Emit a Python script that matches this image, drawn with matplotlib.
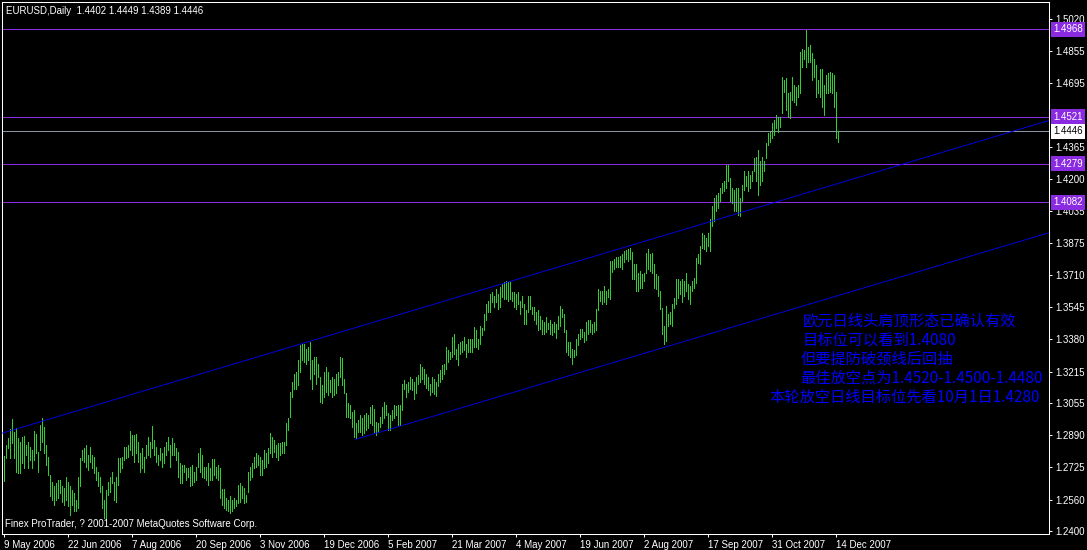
import matplotlib
matplotlib.use("Agg")
import matplotlib.pyplot as plt
from matplotlib import transforms

plt.rcParams['font.family'] = ['Liberation Sans', 'DejaVu Sans']

W, H = 1087, 550

# daily EURUSD bars, 9 May 2006 .. mid Dec 2007 (high / low)
highs = [
    1.2785, 1.2839, 1.2873, 1.2921, 1.2972, 1.2907, 1.2924, 1.2873, 1.2856, 1.2882,
    1.2887, 1.2839, 1.2856, 1.2831, 1.2813, 1.2910, 1.2898, 1.2805, 1.2941, 1.2975,
    1.2933, 1.2839, 1.2779, 1.2686, 1.2652, 1.2627, 1.2643, 1.2661, 1.2661, 1.2627,
    1.2618, 1.2678, 1.2652, 1.2627, 1.2610, 1.2593, 1.2559, 1.2678, 1.2771, 1.2813,
    1.2822, 1.2839, 1.2788, 1.2831, 1.2788, 1.2779, 1.2728, 1.2703, 1.2678, 1.2627,
    1.2559, 1.2610, 1.2652, 1.2678, 1.2703, 1.2652, 1.2678, 1.2771, 1.2771, 1.2779,
    1.2831, 1.2831, 1.2839, 1.2910, 1.2893, 1.2890, 1.2898, 1.2856, 1.2796, 1.2822,
    1.2779, 1.2839, 1.2882, 1.2856, 1.2938, 1.2865, 1.2831, 1.2788, 1.2822, 1.2796,
    1.2831, 1.2856, 1.2882, 1.2839, 1.2873, 1.2848, 1.2822, 1.2805, 1.2745, 1.2737,
    1.2737, 1.2720, 1.2720, 1.2728, 1.2737, 1.2703, 1.2728, 1.2796, 1.2825, 1.2788,
    1.2728, 1.2728, 1.2745, 1.2720,
    1.2768, 1.2768, 1.2729, 1.2737, 1.2720, 1.2615,
    1.2615, 1.2567, 1.2559, 1.2576, 1.2559, 1.2567, 1.2559, 1.2635, 1.2644, 1.2627,
    1.2618, 1.2584, 1.2703, 1.2729, 1.2746, 1.2780, 1.2797, 1.2788, 1.2780, 1.2763,
    1.2814, 1.2797, 1.2822, 1.2899, 1.2882, 1.2865, 1.2839, 1.2848, 1.2848, 1.2856,
    1.2856, 1.2950, 1.2975, 1.3111, 1.3162, 1.3205, 1.3213, 1.3273, 1.3349, 1.3358,
    1.3358, 1.3332, 1.3341, 1.3366, 1.3273, 1.3290, 1.3290, 1.3256, 1.3188, 1.3145,
    1.3213, 1.3239, 1.3213, 1.3171, 1.3188, 1.3179, 1.3205, 1.3213, 1.3290, 1.3284,
    1.3179, 1.3103, 1.3052, 1.3043, 1.3009, 1.3018, 1.2950, 1.2967, 1.2992, 1.2975,
    1.2992, 1.3001, 1.2992, 1.3035, 1.3043, 1.3026, 1.2958, 1.2950, 1.2984, 1.3035,
    1.3060, 1.3043, 1.3001, 1.2992, 1.3018, 1.3043, 1.3040, 1.3043, 1.3043, 1.3154,
    1.3171, 1.3154, 1.3162, 1.3188, 1.3179, 1.3162, 1.3188, 1.3196, 1.3256, 1.3239,
    1.3230,
    1.3205, 1.3188, 1.3154, 1.3188, 1.3179, 1.3162, 1.3205, 1.3222, 1.3247,
    1.3256, 1.3341, 1.3324, 1.3318, 1.3392, 1.3409, 1.3332, 1.3358, 1.3366, 1.3370,
    1.3392, 1.3358, 1.3383, 1.3383, 1.3383, 1.3443, 1.3426, 1.3383, 1.3451, 1.3437,
    1.3511, 1.3562, 1.3579, 1.3613, 1.3621, 1.3604, 1.3638, 1.3613, 1.3647, 1.3664,
    1.3672, 1.3681, 1.3672, 1.3672, 1.3621, 1.3621, 1.3613, 1.3621, 1.3579, 1.3604,
    1.3562, 1.3528, 1.3604, 1.3604, 1.3545, 1.3545, 1.3519, 1.3528, 1.3502, 1.3477,
    1.3468, 1.3494, 1.3465, 1.3477, 1.3460, 1.3468, 1.3460, 1.3502, 1.3553, 1.3536,
    1.3511, 1.3426, 1.3366, 1.3366, 1.3332, 1.3324, 1.3383, 1.3409, 1.3434, 1.3434,
    1.3417, 1.3468, 1.3477, 1.3477, 1.3460, 1.3468, 1.3536, 1.3638, 1.3630, 1.3630,
    1.3655, 1.3630, 1.3638, 1.3783, 1.3783, 1.3791, 1.3800, 1.3800, 1.3808, 1.3817,
    1.3834, 1.3839, 1.3842, 1.3850, 1.3825, 1.3766,
    1.3764, 1.3722, 1.3730, 1.3713,
    1.3722, 1.3824, 1.3841, 1.3815, 1.3824, 1.3764, 1.3713, 1.3705, 1.3628, 1.3543,
    1.3450, 1.3552, 1.3509, 1.3518, 1.3560, 1.3594, 1.3688, 1.3688, 1.3679, 1.3688,
    1.3679, 1.3722, 1.3662, 1.3654, 1.3679, 1.3696, 1.3798, 1.3815, 1.3858, 1.3926,
    1.3917, 1.3900, 1.3926, 1.3994, 1.4062, 1.4104, 1.4121, 1.4130, 1.4155, 1.4181,
    1.4189, 1.4274, 1.4274, 1.4206, 1.4155, 1.4147, 1.4155, 1.4155, 1.4104, 1.4172,
    1.4240, 1.4215, 1.4240, 1.4223, 1.4240, 1.4308, 1.4316, 1.4350, 1.4291, 1.4316,
    1.4291, 1.4384, 1.4436, 1.4444, 1.4488, 1.4504, 1.4529, 1.4521, 1.4521, 1.4725,
    1.4708, 1.4716, 1.4640, 1.4648, 1.4725, 1.4682, 1.4674, 1.4682, 1.4852, 1.4869,
    1.4861, 1.4966, 1.4878, 1.4886, 1.4844, 1.4818, 1.4784, 1.4708, 1.4767, 1.4767,
    1.4682, 1.4733, 1.4742, 1.4750, 1.4742, 1.4733, 1.4648, 1.4449,
]
lows = [
    1.2655, 1.2774, 1.2822, 1.2771, 1.2848, 1.2771, 1.2703, 1.2694, 1.2694, 1.2745,
    1.2720, 1.2788, 1.2720, 1.2762, 1.2720, 1.2762, 1.2796, 1.2703, 1.2813, 1.2856,
    1.2796, 1.2737, 1.2686, 1.2576, 1.2559, 1.2533, 1.2559, 1.2567, 1.2593, 1.2550,
    1.2533, 1.2559, 1.2525, 1.2482, 1.2533, 1.2499, 1.2499, 1.2516, 1.2627, 1.2762,
    1.2754, 1.2728, 1.2711, 1.2754, 1.2720, 1.2694, 1.2661, 1.2627, 1.2601, 1.2516,
    1.2465, 1.2456, 1.2584, 1.2601, 1.2643, 1.2559, 1.2550, 1.2635, 1.2703, 1.2720,
    1.2762, 1.2771, 1.2779, 1.2813, 1.2788, 1.2754, 1.2796, 1.2754, 1.2703, 1.2720,
    1.2703, 1.2771, 1.2788, 1.2779, 1.2822, 1.2788, 1.2754, 1.2737, 1.2762, 1.2728,
    1.2745, 1.2788, 1.2813, 1.2728, 1.2788, 1.2788, 1.2762, 1.2678, 1.2643, 1.2643,
    1.2703, 1.2661, 1.2678, 1.2627, 1.2635, 1.2652, 1.2661, 1.2728, 1.2703, 1.2678,
    1.2669, 1.2661, 1.2635, 1.2661,
    1.2661, 1.2686, 1.2669, 1.2661, 1.2567, 1.2533,
    1.2516, 1.2508, 1.2499, 1.2491, 1.2499, 1.2516, 1.2525, 1.2542, 1.2550, 1.2567,
    1.2542, 1.2550, 1.2601, 1.2661, 1.2678, 1.2720, 1.2729, 1.2737, 1.2686, 1.2686,
    1.2720, 1.2729, 1.2746, 1.2797, 1.2780, 1.2805, 1.2780, 1.2763, 1.2788, 1.2797,
    1.2797, 1.2839, 1.2916, 1.2984, 1.3086, 1.3128, 1.3128, 1.3145, 1.3213, 1.3273,
    1.3264, 1.3256, 1.3273, 1.3179, 1.3128, 1.3205, 1.3154, 1.3188, 1.3060, 1.3052,
    1.3086, 1.3111, 1.3094, 1.3111, 1.3086, 1.3094, 1.3103, 1.3145, 1.3188, 1.3145,
    1.3103, 1.2984, 1.2984, 1.2975, 1.2933, 1.2882, 1.2873, 1.2907, 1.2907, 1.2890,
    1.2899, 1.2916, 1.2924, 1.2950, 1.2941, 1.2907, 1.2890, 1.2907, 1.2933, 1.2950,
    1.2975, 1.2992, 1.2916, 1.2916, 1.2967, 1.2975, 1.2992, 1.2941, 1.2941, 1.3018,
    1.3128, 1.3086, 1.3111, 1.3128, 1.3120, 1.3077, 1.3103, 1.3154, 1.3162, 1.3179,
    1.3154,
    1.3130, 1.3120, 1.3095, 1.3110, 1.3100, 1.3090, 1.3140, 1.3162, 1.3179,
    1.3205, 1.3230, 1.3264, 1.3281, 1.3290, 1.3307, 1.3281, 1.3247, 1.3307, 1.3315,
    1.3324, 1.3290, 1.3315, 1.3315, 1.3315, 1.3341, 1.3341, 1.3332, 1.3358, 1.3400,
    1.3426, 1.3477, 1.3519, 1.3519, 1.3570, 1.3545, 1.3570, 1.3536, 1.3545, 1.3596,
    1.3587, 1.3587, 1.3579, 1.3587, 1.3579, 1.3545, 1.3536, 1.3562, 1.3511, 1.3545,
    1.3460, 1.3460, 1.3519, 1.3536, 1.3511, 1.3477, 1.3460, 1.3426, 1.3434, 1.3409,
    1.3409, 1.3417, 1.3434, 1.3409, 1.3400, 1.3417, 1.3388, 1.3434, 1.3451, 1.3494,
    1.3417, 1.3315, 1.3298, 1.3290, 1.3256, 1.3290, 1.3298, 1.3349, 1.3383, 1.3392,
    1.3366, 1.3375, 1.3409, 1.3417, 1.3409, 1.3417, 1.3426, 1.3528, 1.3579, 1.3562,
    1.3570, 1.3562, 1.3596, 1.3587, 1.3723, 1.3740, 1.3749, 1.3749, 1.3749, 1.3740,
    1.3774, 1.3791, 1.3783, 1.3791, 1.3689, 1.3689,
    1.3628, 1.3628, 1.3645, 1.3645,
    1.3679, 1.3722, 1.3739, 1.3730, 1.3722, 1.3645, 1.3637, 1.3603, 1.3535, 1.3407,
    1.3356, 1.3373, 1.3450, 1.3458, 1.3450, 1.3543, 1.3560, 1.3594, 1.3611, 1.3569,
    1.3603, 1.3628, 1.3586, 1.3560, 1.3628, 1.3645, 1.3671, 1.3773, 1.3764, 1.3849,
    1.3841, 1.3832, 1.3858, 1.3832, 1.3960, 1.3985, 1.4036, 1.4053, 1.4087, 1.4130,
    1.4138, 1.4155, 1.4189, 1.4087, 1.4079, 1.4036, 1.4036, 1.4019, 1.4011, 1.4087,
    1.4147, 1.4164, 1.4138, 1.4155, 1.4189, 1.4240, 1.4189, 1.4121, 1.4172, 1.4189,
    1.4240, 1.4308, 1.4376, 1.4393, 1.4410, 1.4427, 1.4461, 1.4444, 1.4470, 1.4538,
    1.4648, 1.4555, 1.4521, 1.4512, 1.4606, 1.4597, 1.4580, 1.4622, 1.4640, 1.4776,
    1.4818, 1.4776, 1.4801, 1.4801, 1.4708, 1.4725, 1.4622, 1.4640, 1.4622, 1.4572,
    1.4529, 1.4640, 1.4640, 1.4648, 1.4640, 1.4572, 1.4410, 1.4389,
]

date_labels = ['9 May 2006', '22 Jun 2006', '7 Aug 2006', '20 Sep 2006',
               '3 Nov 2006', '19 Dec 2006', '5 Feb 2007', '21 Mar 2007',
               '4 May 2007', '19 Jun 2007', '2 Aug 2007', '17 Sep 2007',
               '31 Oct 2007', '14 Dec 2007']
bars_per_label = 32

price_ticks = [1.5020, 1.4855, 1.4695, 1.4365, 1.4200, 1.4035, 1.3875, 1.3710,
               1.3545, 1.3380, 1.3215, 1.3055, 1.2890, 1.2725, 1.2560, 1.2400]

levels = [1.4968, 1.4521, 1.4279, 1.4082]
bid = 1.4446

# trend channel anchors (bar index, price)
upper_line = [(0, 1.2902), (153, 1.3370)]
lower_line = [(176, 1.2868), (330, 1.3338)]

header = 'EURUSD,Daily  1.4402 1.4449 1.4389 1.4446'
footer = 'Finex ProTrader, ? 2001-2007 MetaQuotes Software Corp.'
notes = ['欧元日线头肩顶形态已确认有效',
         '目标位可以看到1.4080',
         '但要提防破颈线后回抽',
         '最佳放空点为1.4520-1.4500-1.4480',
         '本轮放空日线目标位先看10月1日1.4280']

bar_green = '#32cd32'
purple = '#8a2be2'
blue = '#0000ff'


def px(x, y):
    return x / W, 1 - y / H


fig = plt.figure(figsize=(W / 100, H / 100), dpi=100, facecolor='black')
ax = fig.add_axes([2 / W, 16 / H, 1047 / W, 532 / H], facecolor='black')

ax.set_xlim(-0.75, 522.75)
ax.set_ylim(1.23836, 1.51075)

idx = list(range(len(highs)))
ax.vlines(idx, lows, highs, colors=bar_green, linewidth=0.5,
          antialiased=False, zorder=3)

for lv in levels:
    ax.axhline(lv, color=purple, lw=0.5, antialiased=False, zorder=2)
ax.axhline(bid, color='#8694a2', lw=0.5, antialiased=False, zorder=2)

# channel: upper line spans the chart, lower one is a ray to the right
(ux0, uy0), (ux1, uy1) = upper_line
us = (uy1 - uy0) / (ux1 - ux0)
ax.plot([-1, 524], [uy0 + us * (-1 - ux0), uy0 + us * (524 - ux0)],
        color=blue, lw=0.6, zorder=4)
(lx0, ly0), (lx1, ly1) = lower_line
ls = (ly1 - ly0) / (lx1 - lx0)
ax.plot([lx0, 524], [ly0, ly0 + ls * (524 - lx0)],
        color=blue, lw=0.6, zorder=4)

for sp in ax.spines.values():
    sp.set_color('white')
    sp.set_linewidth(0.75)

ax.yaxis.tick_right()
ax.set_yticks(price_ticks)
ax.set_yticklabels([f'{v:.4f}' for v in price_ticks])
ax.set_xticks([bars_per_label * k for k in range(len(date_labels))])
ax.set_xticklabels(date_labels)
for lab in ax.get_xticklabels():
    lab.set_ha('left')
ax.tick_params(axis='both', colors='white', labelcolor='white', length=2.5,
               width=0.75, labelsize=7, direction='out')
ax.tick_params(axis='y', pad=2)
ax.tick_params(axis='x', pad=1.5)

trans = transforms.blended_transform_factory(fig.transFigure, ax.transData)
for lv in levels:
    ax.text(1053 / W, lv, f'{lv:.4f}', transform=trans, color='white',
            fontsize=7, va='center', ha='left', clip_on=False, zorder=6,
            bbox=dict(boxstyle='square,pad=0.25', fc=purple, ec='none'))
ax.text(1053 / W, bid, f'{bid:.4f}', transform=trans, color='black',
        fontsize=7, va='center', ha='left', clip_on=False, zorder=6,
        bbox=dict(boxstyle='square,pad=0.25', fc='white', ec='none'))

fig.text(*px(6, 11), header, color='white', fontsize=7, va='center')
fig.text(*px(5, 524), footer, color='white', fontsize=7, va='center')

note_pos = [(803, 321), (803, 340), (801, 359), (800, 378), (769, 397)]
for (nx, ny), s in zip(note_pos, notes):
    fig.text(*px(nx, ny), s, color=blue, fontsize=11, va='center',
             family=['Noto Sans CJK SC', 'DejaVu Sans'])

fig.savefig('out.png', dpi=100, facecolor='black')
